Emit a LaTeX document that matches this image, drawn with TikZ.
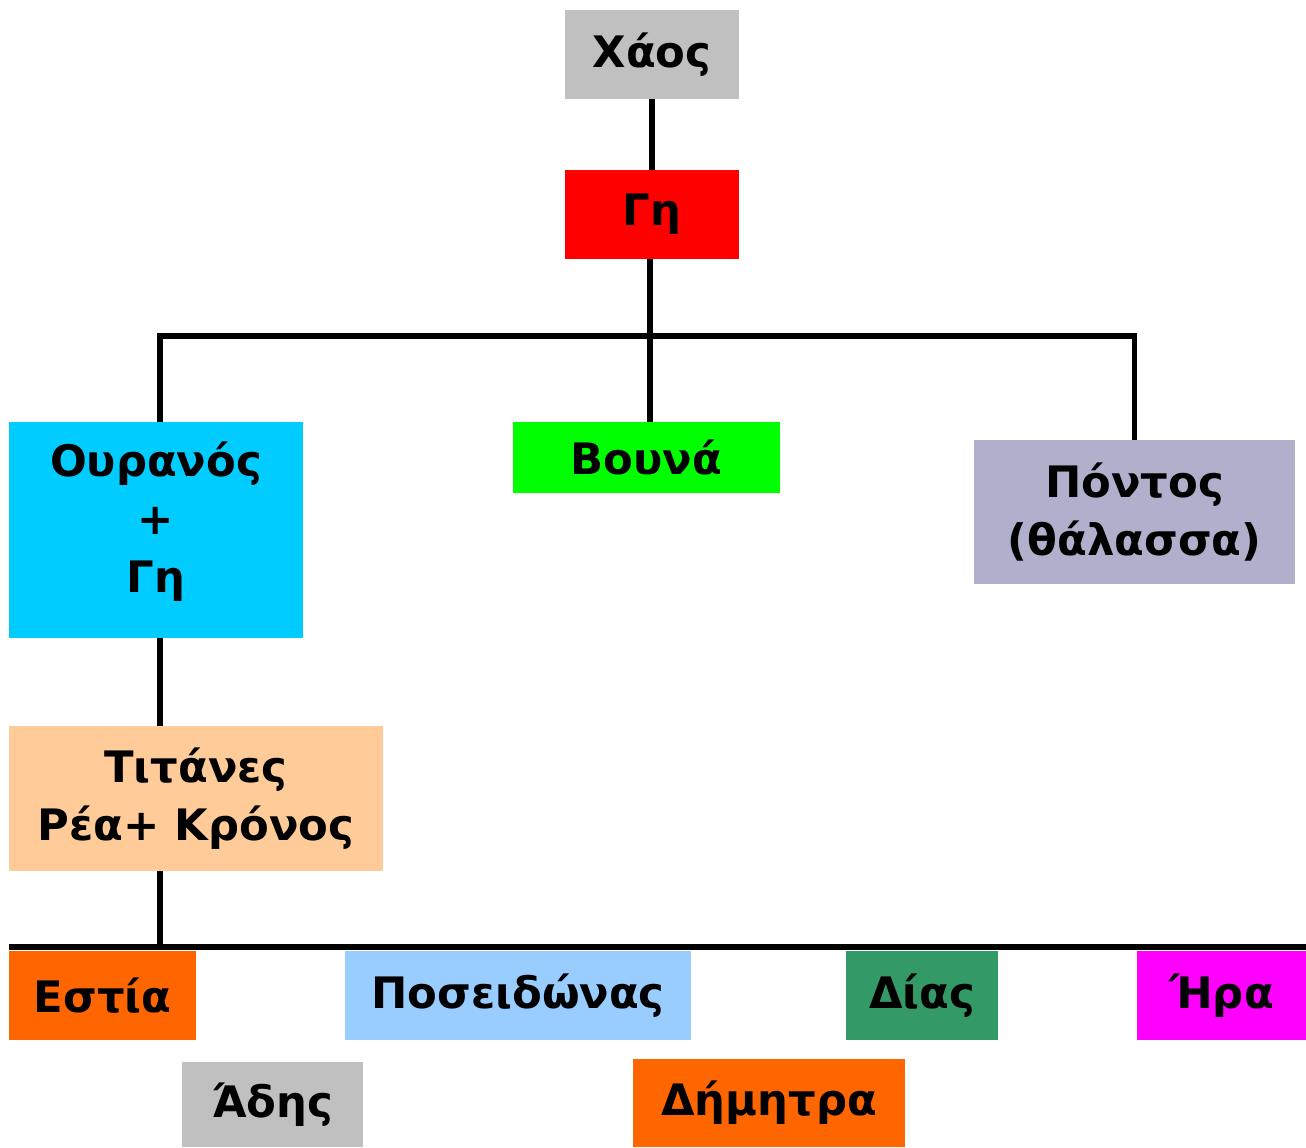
\documentclass[tikz,border=0pt]{standalone}
\usepackage{fontspec}
\setmainfont{DejaVu Sans}
\newlength\px \setlength\px{0.75pt}
\definecolor{chaosgray}{HTML}{C0C0C0}
\definecolor{skycyan}{HTML}{00CCFF}
\definecolor{seagray}{HTML}{B0B0CC}
\definecolor{titanpeach}{HTML}{FFCC99}
\definecolor{fireorange}{HTML}{FF6600}
\definecolor{wavesblue}{HTML}{99CCFF}
\definecolor{zeusgreen}{HTML}{339966}
\definecolor{heramagenta}{HTML}{FF00FF}
\definecolor{hillgreen}{HTML}{00FF00}
\tikzset{
  godbox/.style={rectangle, inner sep=0pt, align=center,
    font=\bfseries\fontsize{32.5}{43.5}\selectfont},
  branch/.style={line width=5.5\px, black}
}
\begin{document}
\begin{tikzpicture}[x=0.75pt, y=-0.75pt]
\useasboundingbox (0,0) rectangle (1306,1147);

\node[godbox, fill=chaosgray, minimum width=174\px, minimum height=89\px] (chaos) at (652,54.5) {Χάος};
\node[godbox, fill=red, minimum width=174\px, minimum height=89\px] (gi) at (652,214.5) {Γη};

\node[godbox, fill=skycyan, minimum width=294\px, minimum height=216\px, text depth=26\px] (ouranos) at (156,530) {Ουρανός\\+\\Γη};
\node[godbox, fill=hillgreen, minimum width=267\px, minimum height=71\px] (vouna) at (646.5,457.5) {Βουνά};
\node[godbox, fill=seagray, minimum width=321\px, minimum height=144\px] (pontos) at (1134.5,512) {Πόντος\\(θάλασσα)};

\node[godbox, fill=titanpeach, minimum width=374\px, minimum height=145\px] (titanes) at (196,798.5) {Τιτάνες\\Ρέα+ Κρόνος};

% children of Rhea and Kronos
\node[godbox, fill=fireorange, minimum width=187\px, minimum height=89\px] (estia) at (102.5,995.5) {Εστία};
\node[godbox, fill=wavesblue, minimum width=346\px, minimum height=89\px] (poseidonas) at (518,995.5) {Ποσειδώνας};
\node[godbox, fill=zeusgreen, minimum width=152\px, minimum height=89\px] (dias) at (922,995.5) {Δίας};
\node[godbox, fill=heramagenta, minimum width=169\px, minimum height=89\px] (ira) at (1221.5,995.5) {Ήρα};
\node[godbox, fill=chaosgray, minimum width=181\px, minimum height=85\px] (adis) at (272.5,1104.5) {Άδης};
\node[godbox, fill=fireorange, minimum width=272\px, minimum height=88\px] (dimitra) at (769,1103) {Δήμητρα};

\coordinate (gibar) at (650,336);
\coordinate (barL) at (9,947);
\coordinate (barR) at (1306,947);

\draw[branch] (chaos) -- (gi);
\draw[branch] (gibar |- gi.south) -- (gibar |- vouna.north);
\draw[branch] (160,0 |- ouranos.north) |- (gibar) -| (pontos.north);
\draw[branch] (160,0 |- ouranos.south) -- (160,0 |- titanes.north);
\draw[branch] (160,0 |- titanes.south) -- (160,0 |- barL);
\draw[branch] (barL) -- (barR);
\end{tikzpicture}
\end{document}
